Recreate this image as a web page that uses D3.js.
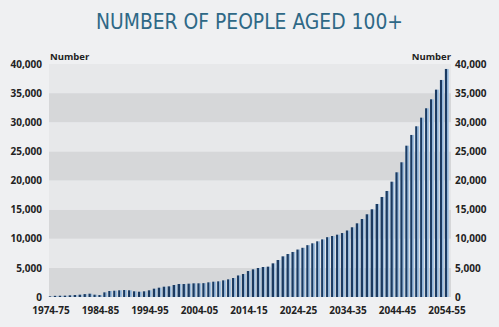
<!DOCTYPE html>
<html><head><meta charset="utf-8">
<script src="https://cdn.jsdelivr.net/npm/d3@7"></script>
<style>html,body{margin:0;padding:0;background:#eff0f2;}svg{display:block;}</style>
</head><body><svg id="c" width="499" height="327"></svg>
<script>
const title = "NUMBER OF PEOPLE AGED 100+";
const axisTitle = "Number";
const startYears = d3.range(1974, 2055);
const categories = startYears.map(y => y + "-" + String((y + 1) % 100).padStart(2, "0"));
const values = [
 115, 200, 220, 230, 290, 340, 400, 500, 570, 400,
 340, 800, 1030, 1080, 1150, 1200, 1150, 980, 910, 980,
 1150, 1430, 1600, 1770, 1830, 2060, 2230, 2230, 2290, 2350,
 2350, 2380, 2520, 2630, 2690, 2860, 3030, 3260, 3700, 3950,
 4460, 4750, 4980, 5150, 5210, 5780, 6350, 6980, 7380, 7730,
 8150, 8450, 8900, 9220, 9560, 9900, 10270, 10470, 10700, 10980,
 11420, 11970, 12650, 13390, 14200, 15060, 15970, 17170, 18200, 19800,
 21410, 23130, 25980, 27820, 29310, 30790, 32400, 33940, 35600, 37260,
 39150
];
const yTicks = [0, 5000, 10000, 15000, 20000, 25000, 30000, 35000, 40000];
const xTickLabels = ["1974-75","1984-85","1994-95","2004-05","2014-15","2024-25","2034-35","2044-45","2054-55"];

(function () {
const svg = d3.select("#c");
const pl = 49, pr = 451, pt = 64, pb = 297;
const x = d3.scaleBand().domain(categories).range([48.5, 449.5]).paddingInner(0).paddingOuter(0);
const y = d3.scaleLinear().domain([0, 40000]).range([pb, pt]);

svg.append("text").attr("x", 249.5).attr("y", 29)
  .attr("text-anchor", "middle")
  .attr("font-family", "'Liberation Sans Narrow','DejaVu Sans Condensed','Roboto',sans-serif")
  .attr("font-size", 22).attr("fill", "#2e6886")
  .attr("textLength", 307).attr("lengthAdjust", "spacingAndGlyphs")
  .text(title);

const bandPairs = d3.pairs(yTicks);
svg.append("g").selectAll("rect").data(bandPairs).join("rect")
  .attr("x", pl).attr("width", pr - pl)
  .attr("y", d => y(d[1])).attr("height", d => y(d[0]) - y(d[1]))
  .attr("fill", (d, i) => i % 2 === 0 ? "#d6d7d9" : "#e7e8ea");

const defs = svg.append("defs");
const g = defs.append("linearGradient").attr("id", "bg").attr("x1", "0").attr("x2", "1").attr("y1", "0").attr("y2", "0");
g.append("stop").attr("offset", "0%").attr("stop-color", "#2b5580");
g.append("stop").attr("offset", "15%").attr("stop-color", "#1c3a60");
g.append("stop").attr("offset", "50%").attr("stop-color", "#1c3a60");
g.append("stop").attr("offset", "60%").attr("stop-color", "#8fb2d6");
g.append("stop").attr("offset", "100%").attr("stop-color", "#a9c6e3");

svg.append("g").selectAll("rect").data(values).join("rect")
  .attr("x", (d, i) => x(categories[i]) + 0.3)
  .attr("width", x.bandwidth() * 0.8)
  .attr("y", d => y(d))
  .attr("height", d => y(0) - y(d))
  .attr("fill", "url(#bg)");

const font = "'Open Sans','DejaVu Sans',sans-serif";
const la = svg.append("g").attr("transform", `translate(${pl},0)`)
  .call(d3.axisLeft(y).tickValues(yTicks).tickSize(0).tickPadding(7).tickFormat(d3.format(",")));
la.select(".domain").remove();
la.selectAll("text").attr("font-family", font).attr("font-weight", "bold").attr("font-size", 10).attr("fill", "#222");

const ra = svg.append("g").attr("transform", `translate(${pr},0)`)
  .call(d3.axisRight(y).tickValues(yTicks).tickSize(0).tickPadding(4).tickFormat(d3.format(",")));
ra.select(".domain").remove();
ra.selectAll("text").attr("font-family", font).attr("font-weight", "bold").attr("font-size", 10).attr("fill", "#222");

const xa = svg.append("g").attr("transform", `translate(0,${pb})`)
  .call(d3.axisBottom(x).tickValues(xTickLabels).tickSize(0).tickPadding(10));
xa.select(".domain").remove();
xa.selectAll("text").attr("font-family", font).attr("font-weight", "bold").attr("font-size", 10).attr("fill", "#222");

svg.append("text").attr("x", 50).attr("y", 60).attr("font-family", font).attr("font-weight", "bold")
  .attr("font-size", 9.5).attr("fill", "#222").text(axisTitle);
svg.append("text").attr("x", 451).attr("y", 60).attr("text-anchor", "end").attr("font-family", font).attr("font-weight", "bold")
  .attr("font-size", 9.5).attr("fill", "#222").text(axisTitle);
})();
</script>
</body></html>
